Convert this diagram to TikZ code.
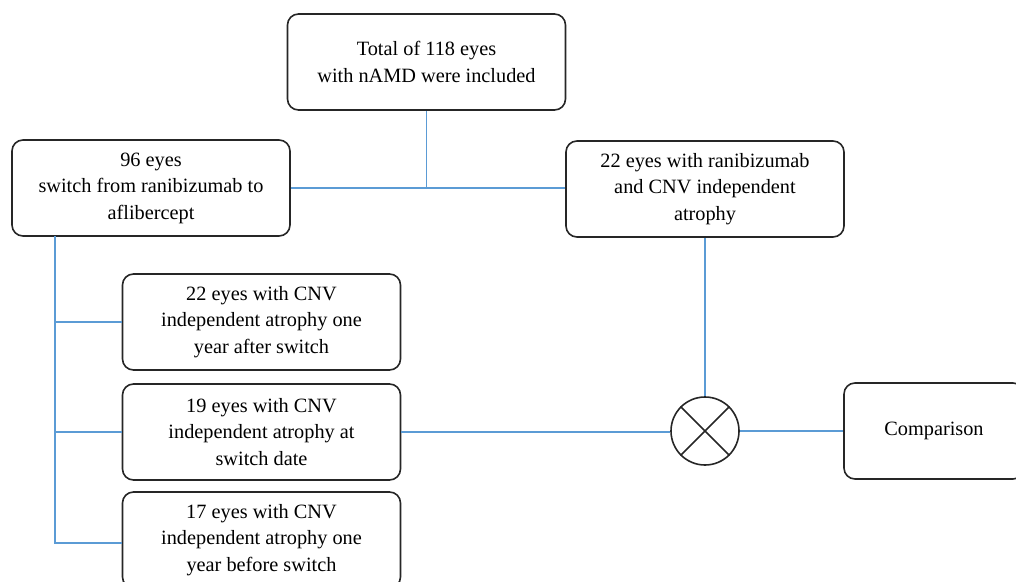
\documentclass[tikz,border=0pt]{standalone}
\usepackage{fontspec}
\setmainfont{Liberation Serif}
\usepackage{tikz}
\usetikzlibrary{calc}
\definecolor{lnblue}{RGB}{91,155,213}
\tikzset{
  flowbox/.style={draw=black!85,line width=1.6pt,rounded corners=11pt,minimum width=278pt,minimum height=96pt,align=center,inner sep=2pt,font=\fontsize{20.3}{26.5}\selectfont},
  joinnode/.style={circle,draw=black!85,line width=1.6pt,minimum size=68pt,inner sep=0pt},
  link/.style={lnblue,line width=1.2pt},
}

\begin{document}
\begin{tikzpicture}[x=1pt,y=-1pt]
    \useasboundingbox (0,0) rectangle (1016,581);
    \clip (0,0) rectangle (1016,581);
    \node[flowbox] (total) at (426.5,62) {Total of 118 eyes\\with nAMD were included};
    \node[flowbox] (sw) at (151,188) {96 eyes\\switch from ranibizumab to\\aflibercept};
    \node[flowbox] (rani) at (705,189) {22 eyes with ranibizumab\\and CNV independent\\atrophy};
    \node[flowbox] (after) at (261.5,322) {22 eyes with CNV\\independent atrophy one\\year after switch};
    \node[flowbox] (atdate) at (261.5,432) {19 eyes with CNV\\independent atrophy at\\switch date};
    \node[flowbox] (before) at (261.5,540) {17 eyes with CNV\\independent atrophy one\\year before switch};
    \node[joinnode] (circ) at (705,431) {};
    \node[flowbox,minimum width=180pt] (comp) at (934,431) {Comparison};
    \draw[black!85,line width=1.6pt] (circ.45) -- (circ.225) (circ.135) -- (circ.-45);
    % links
    \coordinate (top) at (55,236);
    \coordinate (bot) at (55,543);
    \draw[link] (sw.east) -- (sw.east -| rani.west);
    \draw[link] (total.south) -- (total.south |- sw.east);
    \draw[link] (top) -- (bot) -- (before.west |- bot);
    \draw[link] (top |- after.west) -- (after.west);
    \draw[link] (top |- atdate.west) -- (atdate.west);
    \draw[link] (rani.south) -- (circ.north);
    \draw[link] (atdate.east) -- (atdate.east -| circ.west);
    \draw[link] (circ.east) -- (comp.west);
\end{tikzpicture}
\end{document}
